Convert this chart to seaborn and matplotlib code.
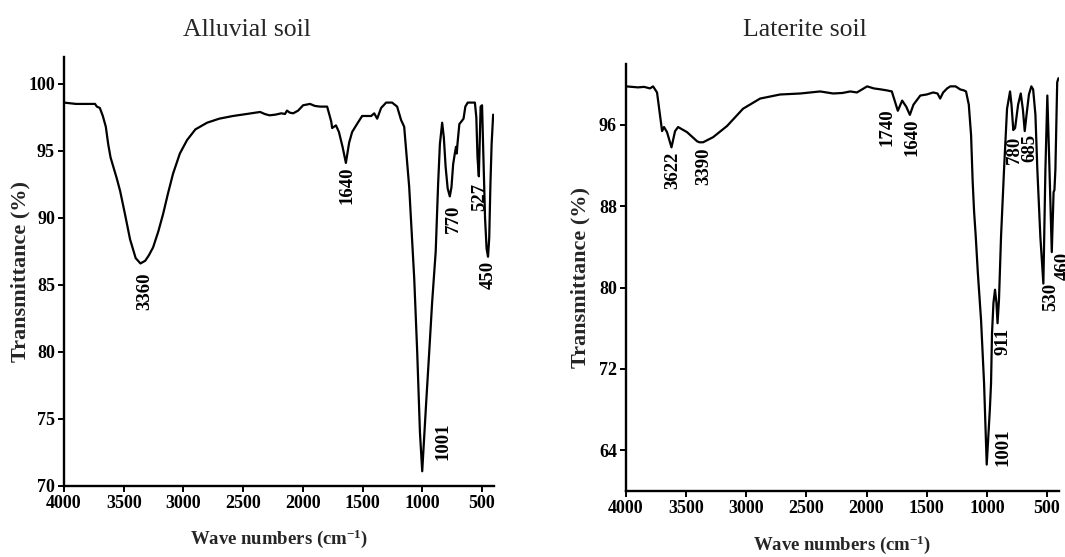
import matplotlib
matplotlib.use("Agg")
import matplotlib.pyplot as plt
import seaborn as sns
import pandas as pd

# ---- FTIR spectra (wavenumber in cm^-1, transmittance in %) ----
alluvial_wn = [4000, 3900, 3800, 3740, 3725, 3700, 3675, 3650, 3630, 3610, 3590, 3560, 3530,
               3490, 3447, 3400, 3360, 3320, 3290, 3254, 3210, 3170, 3130, 3087, 3030, 2970,
               2900, 2802, 2700, 2585, 2470, 2358, 2320, 2280, 2230, 2180, 2150, 2133, 2110,
               2081, 2040, 1998, 1940, 1900, 1856, 1797, 1763, 1755, 1723, 1698, 1668, 1640,
               1613, 1588, 1554, 1504, 1428, 1403, 1378, 1345, 1303, 1253, 1211, 1178, 1152,
               1110, 1068, 1043, 1020, 1001, 968, 943, 918, 888, 868, 853, 834, 820, 805, 788,
               770, 756, 742, 728, 718, 712, 705, 690, 672, 655, 640, 620, 560, 548, 538, 527,
               520, 512, 500, 490, 475, 462, 450, 440, 430, 420, 407]
alluvial_T = [98.6, 98.5, 98.5, 98.5, 98.3, 98.2, 97.6, 96.8, 95.5, 94.5, 93.9, 93.0, 92.0,
              90.3, 88.4, 87.0, 86.6, 86.8, 87.2, 87.8, 89.0, 90.3, 91.8, 93.3, 94.8, 95.8,
              96.6, 97.1, 97.4, 97.6, 97.75, 97.9, 97.75, 97.65, 97.7, 97.8, 97.75, 98.0, 97.85,
              97.8, 98.0, 98.4, 98.5, 98.35, 98.3, 98.3, 97.2, 96.7, 96.9, 96.4, 95.3, 94.1,
              95.6, 96.4, 96.9, 97.6, 97.6, 97.8, 97.4, 98.2, 98.6, 98.6, 98.3, 97.3, 96.8,
              92.3, 85.5, 80.0, 74.0, 71.1, 76.2, 79.9, 83.7, 87.5, 92.5, 95.5, 97.1, 96.0, 93.8,
              92.2, 91.6, 92.3, 94.0, 94.8, 95.3, 94.8, 95.6, 97.0, 97.2, 97.4, 98.3, 98.6, 98.6,
              97.5, 94.5, 93.1, 95.5, 98.3, 98.4, 95.0, 90.0, 87.7, 87.1, 88.5, 92.5, 95.5, 97.7]

laterite_wn = [4000, 3900, 3850, 3800, 3775, 3742, 3700, 3684, 3659, 3622, 3592, 3567, 3493,
               3409, 3390, 3359, 3276, 3160, 3027, 2885, 2719, 2550, 2386, 2278, 2200, 2136,
               2080, 1995, 1940, 1880, 1829, 1790, 1740, 1704, 1670, 1640, 1610, 1553, 1500,
               1446, 1410, 1388, 1363, 1330, 1304, 1260, 1221, 1190, 1173, 1150, 1131, 1118,
               1106, 1092, 1075, 1048, 1023, 1001, 975, 965, 957, 945, 932, 920, 911, 899, 882,
               857, 832, 807, 795, 780, 765, 740, 718, 700, 685, 670, 650, 630, 615, 596, 580,
               555, 530, 513, 497, 480, 460, 445, 438, 430, 415, 405]
laterite_T = [99.8, 99.7, 99.75, 99.6, 99.8, 99.2, 95.4, 95.8, 95.3, 93.8, 95.4, 95.8, 95.3,
              94.4, 94.3, 94.3, 94.8, 95.9, 97.6, 98.6, 99.0, 99.1, 99.3, 99.1, 99.15, 99.3,
              99.2, 99.8, 99.6, 99.5, 99.4, 99.3, 97.4, 98.4, 97.8, 97.0, 98.0, 98.9, 99.0,
              99.2, 99.1, 98.6, 99.2, 99.6, 99.8, 99.8, 99.5, 99.4, 99.3, 98.0, 95.0, 90.5,
              87.5, 85.0, 81.5, 76.8, 70.6, 62.6, 68.0, 70.6, 75.5, 78.5, 79.8, 78.5, 76.5, 78.8,
              85.0, 91.6, 97.6, 99.3, 98.0, 95.5, 95.7, 98.0, 99.1, 97.5, 95.4, 97.0, 99.0, 99.8,
              99.5, 97.0, 91.6, 85.0, 80.4, 91.6, 98.9, 92.0, 83.5, 89.4, 89.6, 91.6, 100.2, 100.6]

# ---- peak annotations: text, x position, top of the text ----
alluvial_peaks = ["3360", "1640", "1001", "770", "527", "450"]
alluvial_peak_x = [3322, 1630, 825, 742, 516, 449]
alluvial_peak_y = [85.9, 93.8, 74.7, 91.0, 92.6, 86.8]

laterite_peaks = ["3622", "3390", "1740", "1640", "1001", "911", "780", "685", "530", "460"]
laterite_peak_x = [3609, 3351, 1829, 1621, 864, 864, 772, 639, 473, 364]
laterite_peak_y = [93.4, 93.8, 97.6, 96.6, 66.1, 76.0, 94.9, 95.1, 80.5, 83.5]

alluvial_yticks = [70, 75, 80, 85, 90, 95, 100]
laterite_yticks = [64, 72, 80, 88, 96]
xticks = [4000, 3500, 3000, 2500, 2000, 1500, 1000, 500]

sns.set_style("ticks")
plt.rcParams["font.family"] = ["Liberation Serif", "DejaVu Serif"]
plt.rcParams["mathtext.fontset"] = "custom"
plt.rcParams["mathtext.rm"] = "Liberation Serif:bold"
plt.rcParams["mathtext.it"] = "Liberation Serif:italic:bold"
plt.rcParams["mathtext.bf"] = "Liberation Serif:bold"

W, H = 1065, 557
fig = plt.figure(figsize=(W / 100, H / 100), dpi=100)
fig.patch.set_facecolor("white")


def px_axes(left, top, right, bottom):
    return fig.add_axes([left / W, 1 - bottom / H, (right - left) / W, (bottom - top) / H])


ax1 = px_axes(64, 57, 494, 486)
ax2 = px_axes(626, 64, 1059, 491)

panels = [
    (ax1, alluvial_wn, alluvial_T, (70, 102), alluvial_yticks,
     alluvial_peaks, alluvial_peak_x, alluvial_peak_y),
    (ax2, laterite_wn, laterite_T, (60, 102), laterite_yticks,
     laterite_peaks, laterite_peak_x, laterite_peak_y),
]

for ax, wn, tr, ylim, yt, names, px, py in panels:
    df = pd.DataFrame({"wn": wn, "T": tr})
    sns.lineplot(data=df, x="wn", y="T", ax=ax, color="black", linewidth=1.6,
                 sort=False, estimator=None)
    ax.set_xlim(4000, 400)
    ax.set_ylim(*ylim)
    ax.set_xticks(xticks)
    ax.set_yticks(yt)
    ax.set_xlabel("")
    ax.set_ylabel("")
    sns.despine(ax=ax)
    for s in ("left", "bottom"):
        ax.spines[s].set_linewidth(1.7)
        ax.spines[s].set_color("black")
    ax.tick_params(axis="both", direction="out", length=4.5, width=1.4, pad=2,
                   labelsize=13, colors="black")
    for lab in ax.get_xticklabels() + ax.get_yticklabels():
        lab.set_fontweight("bold")
    for name, x, y in zip(names, px, py):
        ax.text(x, y, name, rotation=90, ha="center", va="top", fontsize=13.5,
                fontweight="bold", color="black", clip_on=False)

# panel titles
fig.text(247 / W, 1 - 30 / H, "Alluvial soil", ha="center", va="center", fontsize=18.5)
fig.text(805 / W, 1 - 30 / H, "Laterite soil", ha="center", va="center", fontsize=18.5)

# axis labels
for xc, yc in [(279, 539), (842, 545)]:
    fig.text(xc / W, 1 - yc / H, "Wave numbers (cm$^{-1}$)", ha="center", va="center",
             fontsize=13.5, fontweight="bold")
for xc, yc in [(20, 271), (580, 278)]:
    fig.text(xc / W, 1 - yc / H, "Transmittance (%)", ha="center", va="center",
             rotation=90, fontsize=16, fontweight="bold")

fig.savefig("out.png", dpi=100, facecolor="white")
